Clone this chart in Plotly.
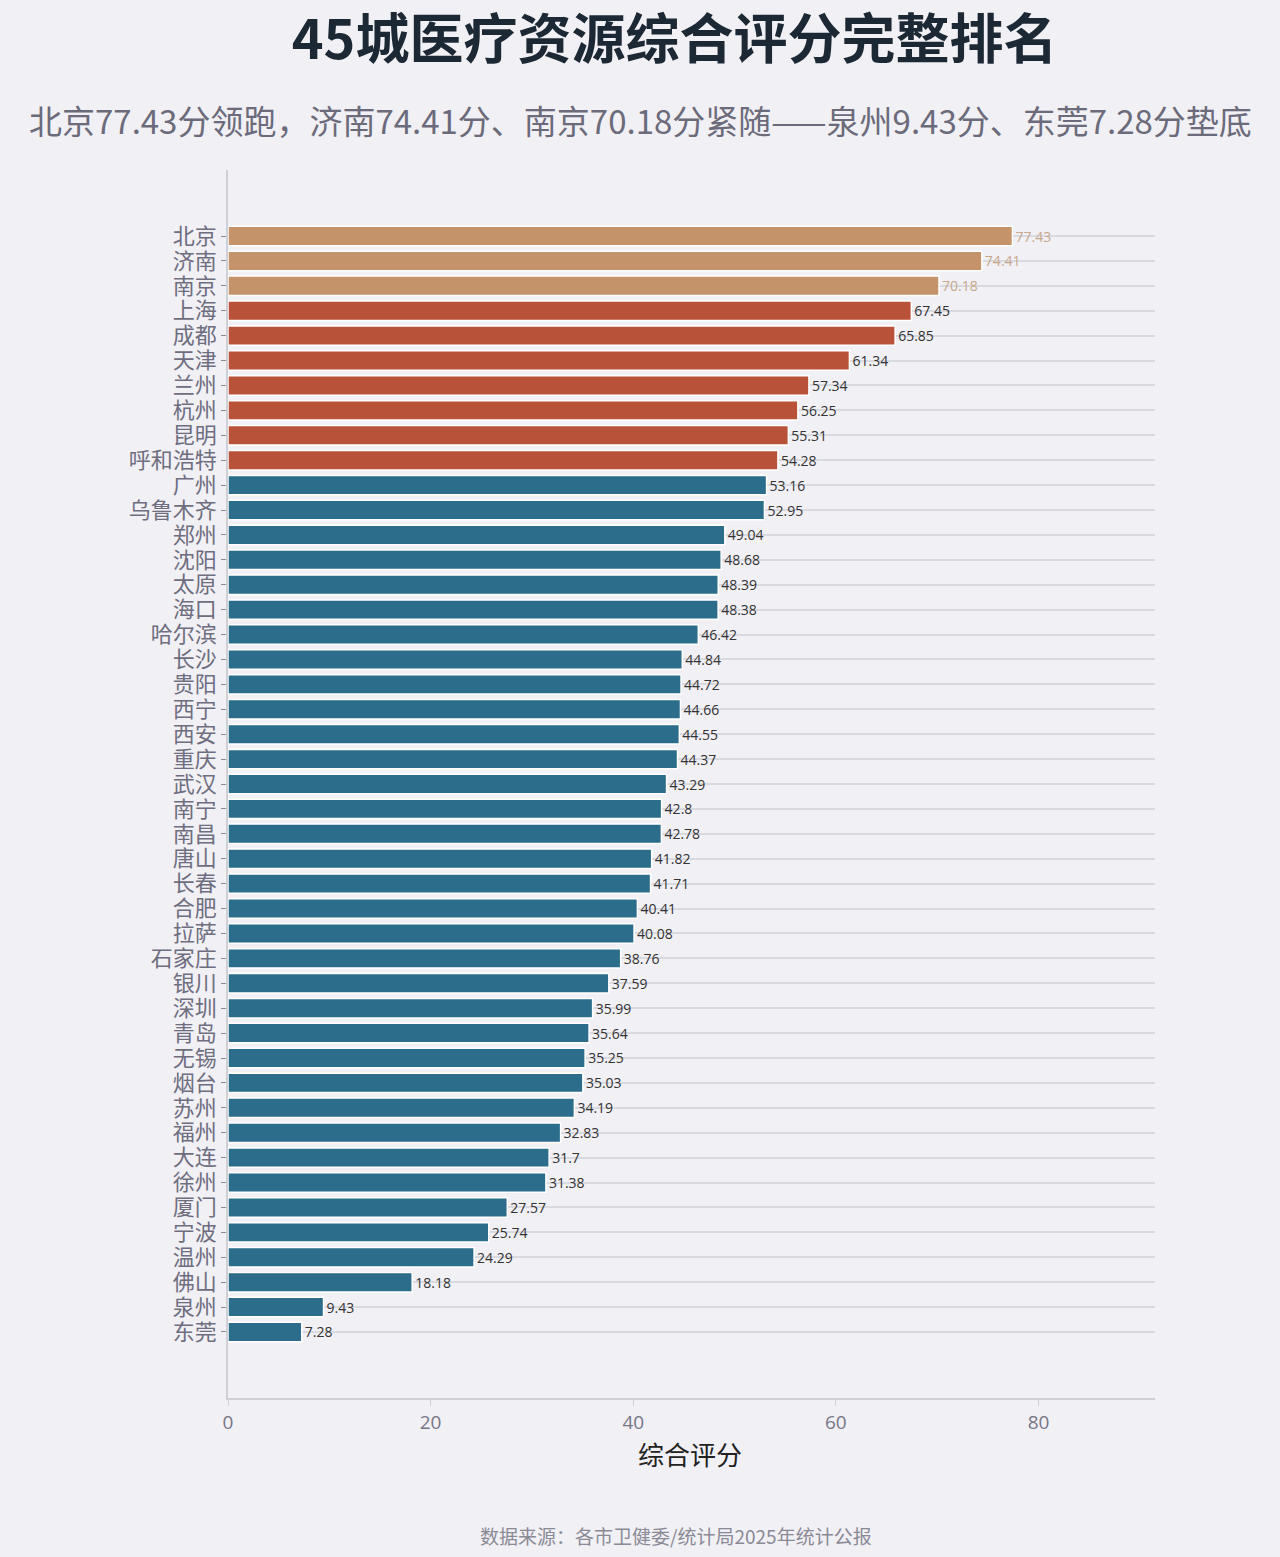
import plotly.graph_objects as go

# 城市与综合评分（从高到低）
cities = ["北京", "济南", "南京", "上海", "成都", "天津", "兰州", "杭州", "昆明", "呼和浩特",
          "广州", "乌鲁木齐", "郑州", "沈阳", "太原", "海口", "哈尔滨", "长沙", "贵阳", "西宁",
          "西安", "重庆", "武汉", "南宁", "南昌", "唐山", "长春", "合肥", "拉萨", "石家庄",
          "银川", "深圳", "青岛", "无锡", "烟台", "苏州", "福州", "大连", "徐州", "厦门",
          "宁波", "温州", "佛山", "泉州", "东莞"]
scores = [77.43, 74.41, 70.18, 67.45, 65.85, 61.34, 57.34, 56.25, 55.31, 54.28,
          53.16, 52.95, 49.04, 48.68, 48.39, 48.38, 46.42, 44.84, 44.72, 44.66,
          44.55, 44.37, 43.29, 42.8, 42.78, 41.82, 41.71, 40.41, 40.08, 38.76,
          37.59, 35.99, 35.64, 35.25, 35.03, 34.19, 32.83, 31.7, 31.38, 27.57,
          25.74, 24.29, 18.18, 9.43, 7.28]
x_ticks = [0, 20, 40, 60, 80]

TAN = "#c49369"
RUST = "#b85238"
TEAL = "#2b6d8a"
BG = "#f1f0f5"

# 前三名、第4-10名、其余
bar_colors = [TAN if i < 3 else (RUST if i < 10 else TEAL) for i in range(len(cities))]
text_colors = ["#c7a88c" if i < 3 else "#333333" for i in range(len(cities))]
labels = [f"{v:g}" for v in scores]

trace = go.Bar(
    x=scores,
    y=cities,
    orientation="h",
    width=0.78,
    marker=dict(color=bar_colors, line=dict(color="white", width=1.5)),
    text=labels,
    textposition="outside",
    textfont=dict(family="Open Sans", size=14, color=text_colors),
    cliponaxis=False,
    hoverinfo="x+y",
)

layout = go.Layout(
    width=1280,
    height=1557,
    paper_bgcolor=BG,
    plot_bgcolor=BG,
    margin=dict(l=228, r=125, t=170, b=159),
    font=dict(family="Noto Sans CJK SC"),
    showlegend=False,
    title=dict(
        text="<b>45城医疗资源综合评分完整排名</b>",
        font=dict(family="Noto Sans CJK SC", size=54, color="#1c2833"),
        x=0.527, xanchor="center", xref="container",
        y=1 - 40 / 1557, yanchor="middle", yref="container",
    ),
    xaxis=dict(
        range=[0, 91.5],
        tickvals=x_ticks,
        showgrid=False,
        zeroline=False,
        showline=True,
        linecolor="#cfcfd6",
        linewidth=1.5,
        ticks="outside",
        ticklen=6,
        tickcolor="#cfcfd6",
        tickfont=dict(family="Open Sans", size=19, color="#777788"),
    ),
    yaxis=dict(
        type="category",
        categoryorder="array",
        categoryarray=cities,
        tickmode="array",
        tickvals=cities,
        ticktext=cities,
        range=[46.65, -2.65],
        showgrid=True,
        gridcolor="#d9d9e0",
        gridwidth=2,
        zeroline=False,
        showline=True,
        linecolor="#cfcfd6",
        linewidth=1.5,
        ticks="outside",
        ticklen=5,
        tickcolor="#8a8a99",
        tickfont=dict(family="Noto Sans CJK SC", size=22, color="#6e6e80"),
    ),
    annotations=[
        dict(text="北京77.43分领跑，济南74.41分、南京70.18分紧随——泉州9.43分、东莞7.28分垫底",
             xref="paper", yref="paper", x=(640 - 228) / 927, y=(1398 - 120) / 1228,
             xanchor="center", yanchor="middle", showarrow=False,
             font=dict(family="Noto Sans CJK SC", size=33, color="#6b6b7b")),
        dict(text="综合评分",
             xref="paper", yref="paper", x=(690 - 228) / 927, y=(1398 - 1453) / 1228,
             xanchor="center", yanchor="middle", showarrow=False,
             font=dict(family="Noto Sans CJK SC", size=26, color="#222222")),
        dict(text="数据来源：各市卫健委/统计局2025年统计公报",
             xref="paper", yref="paper", x=(676 - 228) / 927, y=(1398 - 1535) / 1228,
             xanchor="center", yanchor="middle", showarrow=False,
             font=dict(family="Noto Sans CJK SC", size=19, color="#8a8a96")),
    ],
)

fig = go.Figure(data=[trace], layout=layout)
# 去掉页面默认边距，让图表贴齐窗口
fig.write_html("out.html", config={"displayModeBar": False},
               post_script="document.body.style.margin='0';")
